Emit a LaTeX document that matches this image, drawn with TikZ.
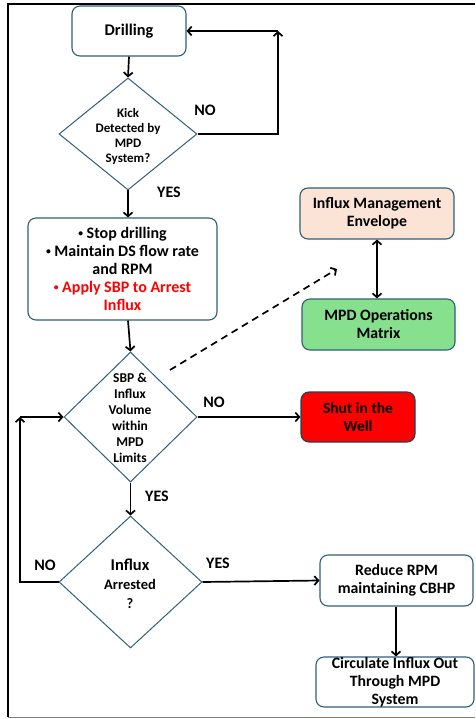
\documentclass[tikz,border=0pt]{standalone}
\usepackage{fontspec}
\setmainfont{Carlito}
\usetikzlibrary{shapes.geometric,arrows.meta}
\definecolor{bstroke}{HTML}{2F5F7A}
\definecolor{peach}{HTML}{FBE3D6}
\definecolor{mgreen}{HTML}{86E08E}
\newcommand{\smbul}{\raisebox{0.25ex}{\scalebox{0.6}{•}}}
\begin{document}
\begin{tikzpicture}[x=1pt,y=-1pt,
  box/.style={draw=bstroke,line width=1.1pt,rounded corners=8pt,fill=white,align=center,inner sep=0pt,font=\bfseries\fontsize{15.8}{18}\selectfont},
  dia/.style={draw=bstroke,line width=1pt,diamond,fill=white,inner sep=0pt},
  dtext/.style={align=center,inner sep=0pt,font=\bfseries},
  arr/.style={line width=1.7pt,-{Straight Barb[length=4pt,width=9pt]}},
  lab/.style={font=\bfseries\fontsize{16}{18}\selectfont,inner sep=0pt}
]
\useasboundingbox (0,0) rectangle (475,719);
\fill[white] (0,0) rectangle (475,719);
% frame
\draw[line width=2pt] (8,717) -- (8,4) -- (475,4);
\draw[line width=0.8pt,gray] (8,717.5) -- (475,717.5);

% nodes
\node[box,minimum width=114pt,minimum height=50pt,font=\bfseries\fontsize{16.3}{18}\selectfont] (drill) at (129,31) {Drilling};
\node[dia,minimum width=138pt,minimum height=112pt] (d1) at (128,134) {};
\node[dtext,font=\bfseries\fontsize{13}{15}\selectfont] (d1t) at (128,136) {Kick\\Detected by\\MPD\\System?};

\node[box,minimum width=189pt,minimum height=102pt,font=\bfseries\fontsize{16}{18}\selectfont] (b2) at (122.5,269)
  {\smbul\ Stop drilling\\\smbul\ Maintain DS flow rate\\and RPM\\\textcolor{red}{\smbul\ Apply SBP to Arrest}\\\textcolor{red}{Influx}};

\node[dia,minimum width=133pt,minimum height=130pt] (d2) at (130.5,417) {};
\node[dtext,font=\bfseries\fontsize{13.5}{16}\selectfont] (d2t) at (130,418) {SBP \&\\Influx\\Volume\\within\\MPD\\Limits};

\node[dia,minimum width=143pt,minimum height=132pt] (d3) at (130.5,582) {};
\node[dtext,font=\bfseries\fontsize{14.5}{19}\selectfont] (d3t) at (130,584) {{\fontsize{16.5}{19}\selectfont Influx}\\Arrested\\?};

\node[box,fill=peach,minimum width=154pt,minimum height=51pt] (ime) at (377,213.5) {Influx Management\\Envelope};
\node[box,fill=mgreen,minimum width=153pt,minimum height=51pt] (mom) at (378.5,324.5) {MPD Operations\\Matrix};
\node[box,fill=red,draw=bstroke!70!black,minimum width=114pt,minimum height=50pt,font=\bfseries\fontsize{15.5}{18}\selectfont] (shut) at (358,417) {Shut in the\\Well};
\node[box,minimum width=153pt,minimum height=51pt] (red) at (396.5,580.5) {Reduce RPM\\maintaining CBHP};
\node[box,minimum width=158pt,minimum height=50pt] (circ) at (395,682) {Circulate Influx Out\\Through MPD\\System};

% labels
\node[lab] (no1) at (205,110) {NO};
\node[lab] (yes1) at (169,192) {YES};
\node[lab] (no2) at (214,402) {NO};
\node[lab] (yes2) at (157,496) {YES};
\node[lab] (no3) at (45,565) {NO};
\node[lab] (yes3) at (218,563) {YES};

% coordinates
\coordinate (c1) at (278,31);
\coordinate (c2) at (20,417);
\coordinate (ds) at (170,370);
\coordinate (de) at (337,269);

% connectors
\draw[arr] (drill.south) -- (d1.north);
\draw[arr] (d1.east) -| (c1);
\draw[arr] (c1) -- (drill.east);
\draw[arr] (d1.south) -- (d1.south |- b2.north);
\draw[arr] (d1.south |- b2.south) -- (d2.north);
\draw[arr] (d2.east) -- (shut.west);
\draw[arr] (d2.south) -- (d3.north);
\draw[arr] (d3.west) -| (c2);
\draw[arr] (c2) -- (d2.west);
\draw[arr] (d3.east) -- (red.west);
\draw[arr] (red.south -| circ.north) ++(1,0) coordinate (rs) (rs) -- (rs |- circ.north);
\draw[line width=1.7pt,{Straight Barb[length=4pt,width=9pt]}-{Straight Barb[length=4pt,width=9pt]}] (ime.south) -- (ime.south |- mom.north);
\draw[arr,dash pattern=on 7pt off 5pt] (ds) -- (de);
\end{tikzpicture}
\end{document}
